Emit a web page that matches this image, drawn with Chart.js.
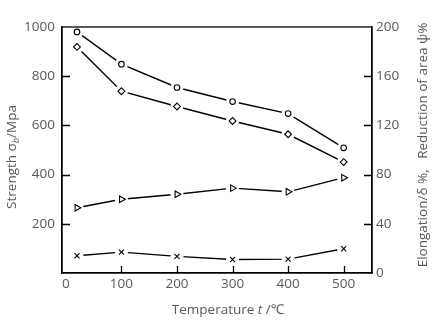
<!DOCTYPE html>
<html>
<head>
<meta charset="utf-8">
<script src="https://cdn.jsdelivr.net/npm/chart.js@4"></script>
<style>
html,body{margin:0;padding:0;background:#fff;}
#wrap{width:433px;height:328px;position:relative;}
</style>
</head>
<body>
<div id="wrap"><canvas id="c"></canvas></div>
<script>
// ---- data ----
const temperatures = [20, 100, 200, 300, 400, 500];
const tensileStrength = [980, 849, 754, 697, 648, 509];      // circles, left axis (MPa)
const yieldStrength   = [919, 739, 677, 618, 564, 451];      // diamonds, left axis (MPa)
const reductionOfArea = [53, 60, 64, 69, 66, 77.5];          // triangles, right axis (%)
const elongation      = [14, 17, 13.5, 11, 11.3, 19.7];      // crosses, right axis (%)
const xTickValues  = [0, 100, 200, 300, 400, 500];
const yTickValues  = [200, 400, 600, 800, 1000];
const y2TickValues = [0, 40, 80, 120, 160, 200];

const FONT = "'Open Sans', 'Noto Sans', sans-serif";
const TXT = '#595959';

function pts(xs, ys){ return xs.map((x,i)=>({x:x, y:ys[i]})); }

function seriesPair(values, axis, style, rot, r){
  const data = pts(temperatures, values);
  return [
    { // line with white halo around points
      data: data, yAxisID: axis, showLine: true, borderColor:'#000', borderWidth:1.4,
      pointRadius: 6.5, pointStyle:'circle', pointBackgroundColor:'#fff',
      pointBorderColor:'#fff', pointBorderWidth:0, pointHoverRadius:6.5, fill:false, tension:0,
      order: 2
    },
    { // markers
      data: data, yAxisID: axis, showLine:false, pointStyle: style, pointRotation: rot,
      pointRadius: r, pointHoverRadius: r, pointBackgroundColor:'#fff',
      pointBorderColor:'#000', pointBorderWidth:1.1, order: 1
    }
  ];
}

const datasets = [].concat(
  seriesPair(tensileStrength, 'y', 'circle', 0, 2.8),
  seriesPair(yieldStrength, 'y', 'rectRot', 0, 3.4),
  seriesPair(reductionOfArea, 'y2', 'triangle', 90, 3.8),
  seriesPair(elongation, 'y2', 'crossRot', 0, 3.6)
);

function drawRich(ctx, segs, cx, cy, rot){
  ctx.save();
  ctx.translate(cx, cy);
  ctx.rotate(rot);
  ctx.textBaseline = 'middle';
  ctx.textAlign = 'left';
  let w = 0;
  segs.forEach(s=>{ ctx.font = s.f; s.w = ctx.measureText(s.t).width; w += s.w; });
  let x = -w/2;
  ctx.fillStyle = TXT;
  segs.forEach(s=>{ ctx.font = s.f; ctx.fillText(s.t, x, s.dy||0); x += s.w; });
  ctx.restore();
}

const decor = {
  id:'decor',
  afterDatasetsDraw(chart){
    const ctx = chart.ctx, a = chart.chartArea;
    const sx = chart.scales.x, sy = chart.scales.y, sy2 = chart.scales.y2;
    ctx.save();
    ctx.strokeStyle = '#000';
    ctx.lineWidth = 1.3;
    ctx.strokeRect(a.left, a.top, a.right - a.left, a.bottom - a.top);
    ctx.beginPath();
    [100,200,300,400,500].forEach(v=>{
      const p = Math.round(sx.getPixelForValue(v)) + 0.5;
      ctx.moveTo(p, a.bottom); ctx.lineTo(p, a.bottom - 7);
    });
    [200,400,600,800].forEach(v=>{
      const p = Math.round(sy.getPixelForValue(v)) + 0.5;
      ctx.moveTo(a.left, p); ctx.lineTo(a.left + 8, p);
    });
    [40,80,120,160].forEach(v=>{
      const p = Math.round(sy2.getPixelForValue(v)) + 0.5;
      ctx.moveTo(a.right, p); ctx.lineTo(a.right - 8, p);
    });
    ctx.stroke();
    ctx.restore();
    // axis titles
    drawRich(ctx, [
      {t:'Strength σ', f:'13.5px '+FONT},
      {t:'b', f:'italic 9px '+FONT, dy:4},
      {t:'/Mpa', f:'13.5px '+FONT}
    ], 12, 157, -Math.PI/2);
    drawRich(ctx, [
      {t:'Temperature ', f:'13.5px '+FONT},
      {t:'t', f:'italic 13.5px '+FONT},
      {t:' /℃', f:'13.5px '+FONT}
    ], 228, 310, 0);
    drawRich(ctx, [
      {t:'Elongation/δ %,   Reduction of area ψ%', f:'13.5px '+FONT}
    ], 423, 145, -Math.PI/2);
  }
};

const plain = v => String(v);

new Chart(document.getElementById('c'), {
  type:'scatter',
  data:{ datasets: datasets },
  options:{
    responsive:true, maintainAspectRatio:false, animation:false,
    layout:{ padding:{ top:27, left:0, right:0, bottom:0 } },
    plugins:{ legend:{display:false}, tooltip:{enabled:false} },
    scales:{
      x:{
        type:'linear', min:-7, max:551,
        afterBuildTicks(s){ s.ticks = xTickValues.map(v=>({value:v})); },
        afterFit(s){ s.height = 55; },
        grid:{ display:false, drawTicks:false },
        border:{ display:true, color:'#000', width:1.3 },
        ticks:{ color:TXT, font:{family:FONT, size:13.5}, padding:3, maxRotation:0, autoSkip:false, callback: plain }
      },
      y:{
        type:'linear', position:'left', min:0, max:1000,
        afterBuildTicks(s){ s.ticks = yTickValues.map(v=>({value:v})); },
        afterFit(s){ s.width = 62; },
        grid:{ display:false, drawTicks:false },
        border:{ display:true, color:'#000', width:1.3 },
        ticks:{ color:TXT, font:{family:FONT, size:13.5}, padding:7, autoSkip:false, callback: plain }
      },
      y2:{
        type:'linear', position:'right', min:0, max:200,
        afterBuildTicks(s){ s.ticks = y2TickValues.map(v=>({value:v})); },
        afterFit(s){ s.width = 61; },
        grid:{ display:false, drawTicks:false },
        border:{ display:true, color:'#000', width:1.3 },
        ticks:{ color:TXT, font:{family:FONT, size:13.5}, padding:4, autoSkip:false, callback: plain }
      }
    }
  },
  plugins:[decor]
});
</script>
</body>
</html>
